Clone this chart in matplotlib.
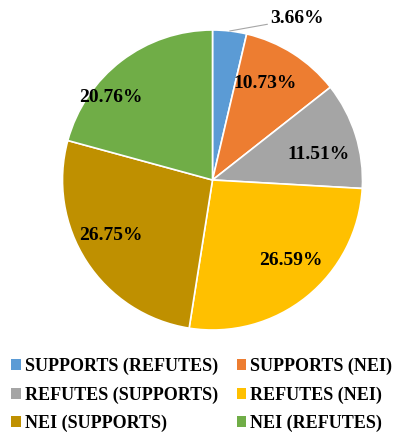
import numpy as np
import matplotlib.pyplot as plt
from matplotlib.patches import Patch

labels = ['SUPPORTS (REFUTES)', 'SUPPORTS (NEI)', 'REFUTES (SUPPORTS)',
          'REFUTES (NEI)', 'NEI (SUPPORTS)', 'NEI (REFUTES)']
values = [3.66, 10.73, 11.51, 26.59, 26.75, 20.76]
colors = ['#5B9BD5', '#ED7D31', '#A5A5A5', '#FFC000', '#BF9000', '#70AD47']

plt.rcParams['font.family'] = ['Liberation Serif', 'DejaVu Serif']
plt.rcParams['font.weight'] = 'bold'

fig = plt.figure(figsize=(4.01, 4.33), dpi=100)
ax = fig.add_axes([62.5 / 401, 103 / 433, 300 / 401, 300 / 433])

wedges, _ = ax.pie(values, colors=colors, startangle=90, counterclock=False,
                   radius=1, wedgeprops=dict(edgecolor='white', linewidth=1.2))
ax.set_xlim(-1, 1)
ax.set_ylim(-1, 1)
ax.set_aspect('equal')

# label radius / angle nudge (Excel "best fit" look)
lab_r = [None, 0.74, 0.73, 0.74, 0.77, 0.88]
lab_da = [0, 4, -3, 6, -5, 13]
for w, v, r, da in zip(wedges, values, lab_r, lab_da):
    mid = np.deg2rad((w.theta1 + w.theta2) / 2 + da)
    txt = f'{v:.2f}%'
    if r is None:
        ex, ey = np.cos(mid), np.sin(mid)
        ax.annotate(txt, xy=(ex, ey), xytext=(ex + 0.27, ey + 0.08),
                    fontsize=14, fontweight='bold', ha='left', va='center',
                    arrowprops=dict(arrowstyle='-', color='#A6A6A6', lw=0.8,
                                    shrinkA=0, shrinkB=0),
                    annotation_clip=False)
    else:
        ax.text(r * np.cos(mid), r * np.sin(mid) - 0.01, txt, fontsize=14,
                fontweight='bold', ha='center', va='center')

# legend is filled row by row in the reference
order = [0, 2, 4, 1, 3, 5]
handles = [Patch(facecolor=colors[i], edgecolor='none') for i in order]
fig.legend(handles, [labels[i] for i in order], loc='lower left',
           bbox_to_anchor=(-0.012, -0.036), ncol=2, frameon=False,
           handlelength=0.55, handleheight=0.55, handletextpad=0.22,
           columnspacing=1.0, labelspacing=0.62,
           prop=dict(weight='bold', size=13))

fig.savefig('out.png', dpi=100)
